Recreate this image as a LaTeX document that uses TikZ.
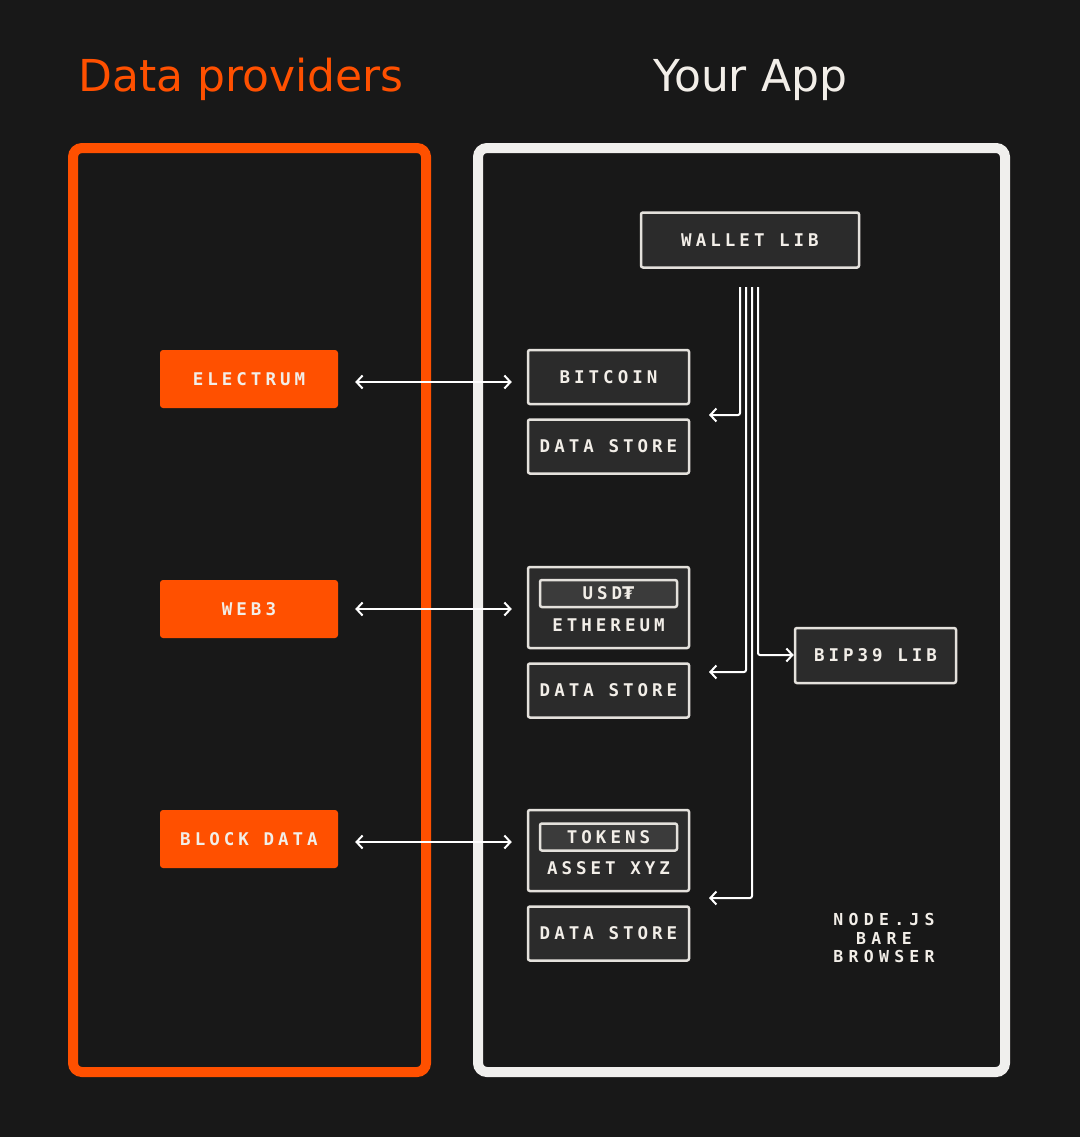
\documentclass[tikz,border=0pt]{standalone}
\usepackage{fontspec}
\usetikzlibrary{arrows.meta,positioning}

\newfontfamily\headfont{DejaVu Sans}
\newfontfamily\labmono[LetterSpace=23]{DejaVu Sans Mono}
\newfontfamily\envmono[LetterSpace=32]{DejaVu Sans Mono}
\newfontfamily\tugfont{DejaVu Sans}
\newcommand{\labfont}{\fontsize{17.5}{21}\selectfont\labmono\bfseries}

\definecolor{bg}{HTML}{181818}
\definecolor{orng}{HTML}{FF5000}
\definecolor{boxfill}{HTML}{2B2B2B}
\definecolor{boxline}{HTML}{E4E1DC}
\definecolor{tagfill}{HTML}{3B3B3B}
\definecolor{frameline}{HTML}{F0EFED}
\definecolor{offwhite}{HTML}{F2EEE8}

\begin{document}
\begin{tikzpicture}[x=1pt,y=-1pt,
	box/.style={draw=boxline, line width=2.5pt, fill=boxfill, rounded corners=2pt,
		text=offwhite, font=\labfont, inner sep=0pt,
		minimum width=161pt, minimum height=54pt},
	tag/.style={draw=boxline, line width=2.5pt, fill=tagfill, rounded corners=2pt,
		text=offwhite, font=\labfont, inner sep=0pt,
		minimum width=137pt, minimum height=27pt},
	pill/.style={fill=orng, rounded corners=3pt, text=offwhite, font=\labfont,
		inner sep=0pt, minimum width=178pt, minimum height=58pt},
	link/.style={draw=white, line width=2pt,
		{Straight Barb[length=6pt,width=13pt]}-{Straight Barb[length=6pt,width=13pt]}},
	bus/.style={draw=white, line width=2pt, rounded corners=2pt,
		-{Straight Barb[length=6pt,width=13pt]}}]

	\fill[bg] (0,0) rectangle (1080,1137);
	\useasboundingbox (0,0) rectangle (1080,1137);

	% frames and titles
	\draw[orng, line width=10pt, rounded corners=9pt] (73,148) rectangle (426,1072);
	\draw[frameline, line width=10pt, rounded corners=9pt] (478,148) rectangle (1005,1072);

	\node[anchor=base west, inner sep=0pt, text=orng, font=\headfont\fontsize{44}{50}\selectfont]
		(provtitle) at (78,92) {Data providers};
	\node[anchor=base, inner sep=0pt, text=offwhite, font=\headfont\fontsize{44}{50}\selectfont]
		(apptitle) at (750,92) {Your App};

	% data providers
	\node[pill] (electrum) at (249,379) {ELECTRUM};
	\node[pill] (web3) at (249,609) {WEB3};
	\node[pill] (blockdata) at (249,839) {BLOCK DATA};

	% app modules
	\node[box, minimum width=218pt, minimum height=55pt] (wallet) at (750,240) {WALLET LIB};

	\node[box] (bitcoin) at (608.5,377) {BITCOIN};
	\node[box, below=13pt of bitcoin] (store1) {DATA STORE};

	\node[box, minimum height=81pt] (eth) at (608.5,607.5) {};
	\node[tag] (usdt) at (608.5,593.5) {USD{\tugfont\bfseries ₮}};
	\node[text=offwhite, font=\labfont, inner sep=0pt] (ethname) at (608.5,625) {ETHEREUM};
	\node[box, below=13pt of eth] (store2) {DATA STORE};

	\node[box, minimum height=81pt] (asset) at (608.5,850.5) {};
	\node[tag] (tokens) at (608.5,837) {TOKENS};
	\node[text=offwhite, font=\labfont, inner sep=0pt] (assetname) at (608.5,868) {ASSET XYZ};
	\node[box, below=13pt of asset] (store3) {DATA STORE};

	\node[box, minimum height=55pt] (bip) at (875.5,655.5) {BIP39 LIB};

	\node[align=center, text=offwhite, inner sep=0pt,
		font=\fontsize{16.5}{18.5}\selectfont\envmono\bfseries] (runtimes) at (884,938) {NODE.JS\\BARE\\BROWSER};

	% provider links
	\draw[link, shorten <=17pt, shorten >=15pt] ([yshift=-3pt]electrum.east) -- ([yshift=-3pt]electrum.east -| bitcoin.west);
	\draw[link, shorten <=17pt, shorten >=15pt] (web3.east) -- (web3.east -| eth.west);
	\draw[link, shorten <=17pt, shorten >=15pt] ([yshift=-3pt]blockdata.east) -- ([yshift=-3pt]blockdata.east -| asset.west);

	% wallet lib bus
	\coordinate (bus1) at (740,287);
	\coordinate (bus2) at (746,287);
	\coordinate (bus3) at (752,287);
	\coordinate (bus4) at (758,287);
	\coordinate (in1) at (709,415);
	\coordinate (in2) at (709,672);
	\coordinate (in3) at (709,898);

	\draw[bus] (bus1) |- (in1);
	\draw[bus] (bus2) |- (in2);
	\draw[bus] (bus3) |- (in3);
	\draw[bus] (bus4) |- (bip.west |- 0,655);

\end{tikzpicture}
\end{document}
